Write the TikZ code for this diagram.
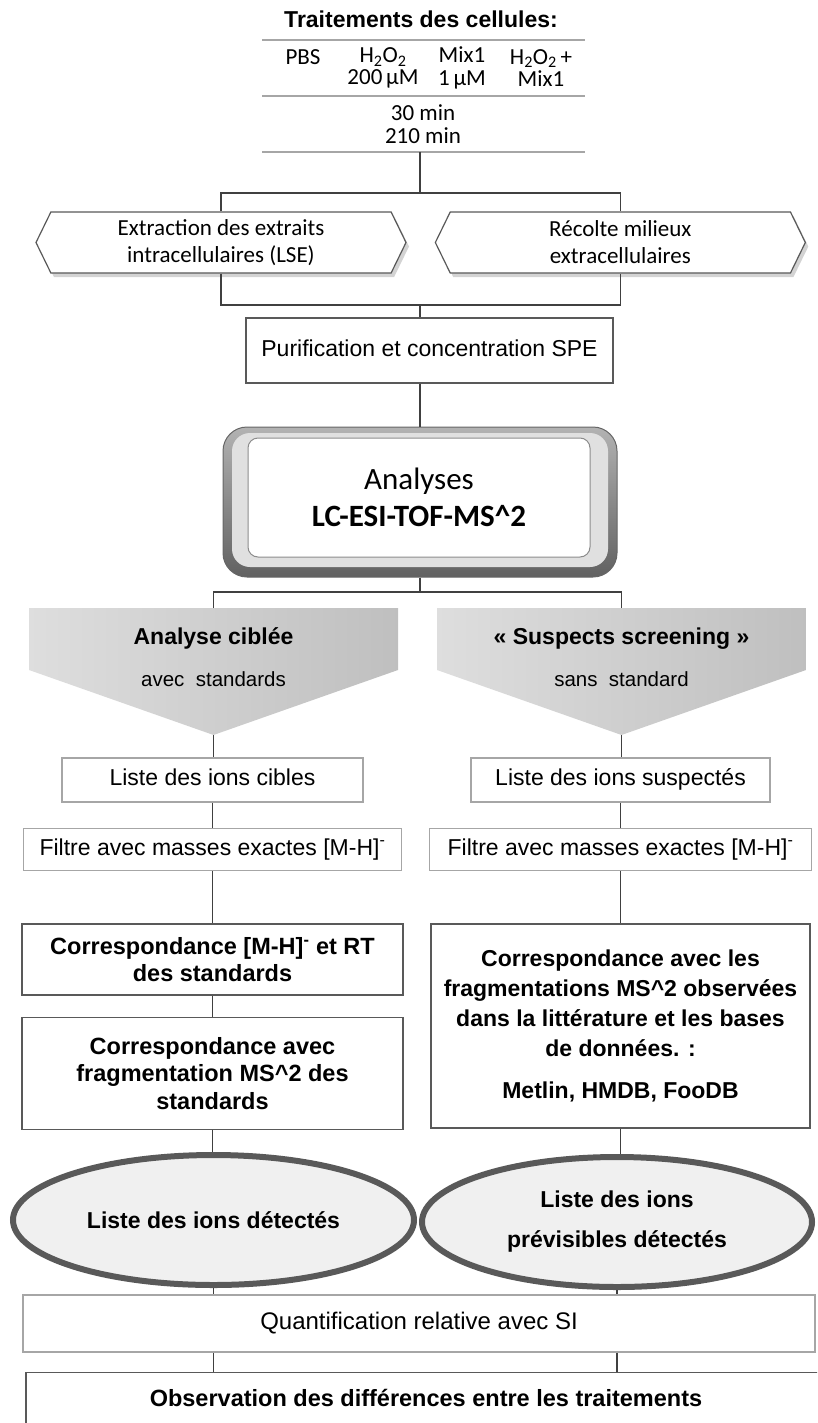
\documentclass[tikz,border=0pt]{standalone}
\usepackage{fontspec}
\setmainfont{Liberation Sans}
\newfontfamily\calibfont{Carlito}
\usetikzlibrary{positioning, shapes.geometric, shapes.symbols, shadows}

\begin{document}
\begin{tikzpicture}[x=1pt, y=-1pt,
  box/.style={draw=black!65, line width=1.3pt, fill=white, align=center, inner sep=2pt,
              font=\fontsize{23}{28}\selectfont},
  oneline/.style={text height=16pt, text depth=5pt},
  boldbox/.style={box, font=\bfseries\fontsize{23.5}{27.5}\selectfont},
  lightbox/.style={box, oneline, draw=black!35, line width=1.5pt},
  hexa/.style={signal, signal to=west and east, signal pointer angle=128, draw=black!65,
               line width=1.2pt, fill=white, minimum width=370pt, minimum height=61pt,
               drop shadow={shadow xshift=3pt, shadow yshift=-4pt, opacity=0.35},
               align=center, font=\calibfont\fontsize{23}{27}\selectfont},
  chevronfill/.style={left color=black!13, right color=black!25},
  chevtext/.style={inner sep=0pt, oneline},
  oval/.style={ellipse, draw=black!65, line width=6pt, fill=black!6, minimum height=130pt,
               align=center, font=\bfseries\fontsize{23}{40}\selectfont},
  cell/.style={font=\calibfont\fontsize{23}{22.5}\selectfont, align=center, inner sep=0pt},
  link/.style={draw=black!75, line width=1.3pt},
  rule/.style={draw=black!35, line width=2pt},
]
  \clip (0,0) rectangle (817,1423);

  \node[font=\bfseries\fontsize{23}{27}\selectfont] (title) at (421,19) {Traitements des cellules:};
  \draw[rule] (262,40) -- (585,40);
  \draw[rule] (262,96) -- (585,96);
  \draw[rule] (262,152) -- (585,152);
  \coordinate (tabbot) at (420,152);

  \node[cell] (pbs)    at (303,57) {PBS};
  \node[cell] (hperox) at (383,68) {H\textsubscript{2}O\textsubscript{2}\\200\,µM};
  \node[cell] (mixone) at (462,68) {Mix1\\1\,µM};
  \node[cell] (combo)  at (541,68) {H\textsubscript{2}O\textsubscript{2}\,+\\Mix1};
  \node[cell, font=\calibfont\fontsize{23}{23}\selectfont] (times) at (423,124) {30 min\\210 min};

  \node[hexa] (extract) at (221,242.5) {Extraction des extraits\\intracellulaires (LSE)};
  \node[hexa, right=28pt of extract] (harvest) {Récolte milieux\\extracellulaires};
  \coordinate (split) at (420,193);
  \draw[link] (tabbot) -- (split);
  \draw[link] (extract.north) |- (split) -| (harvest.north);

  \node[box, oneline, minimum width=367pt, minimum height=65pt] (spe) at (429.5,350.5) {Purification et concentration SPE};
  \coordinate (merge) at (420,305);
  \draw[link] (extract.south) |- (merge) -| (harvest.south);
  \draw[link] (merge) -- (merge |- spe.north);

  \node[draw=black!60, line width=1pt, rounded corners=24pt, top color=black!30, bottom color=black!62,
        minimum width=394pt, minimum height=150pt] (rim) at (420,502) {};
  \node[rounded corners=18pt, fill=black!12, minimum width=376pt, minimum height=134pt] (bevel) at (420,500) {};
  \node[draw=black!45, line width=1pt, rounded corners=10pt, fill=white, minimum width=342pt,
        minimum height=119pt, align=center, font=\calibfont\fontsize{31}{37}\selectfont]
        (analyses) at (419,497.5) {Analyses\\\textbf{LC-ESI-TOF-MS\textasciicircum 2}};
  \draw[link] (rim.north |- spe.south) -- (rim.north);

  \path[chevronfill] (29,608) -- (398,608) -- (398,670) -- (213.5,735) -- (29,670) -- cycle;
  \path[chevronfill] (437,608) -- (806,608) -- (806,670) -- (621.5,735) -- (437,670) -- cycle;
  \coordinate (targetedtop) at (213.5,608);
  \coordinate (targetedtip) at (213.5,735);
  \coordinate (suspectstop) at (621.5,608);
  \coordinate (suspectstip) at (621.5,735);
  \node[chevtext, font=\bfseries\fontsize{23}{27}\selectfont] (targetedtitle) at (213.5,639) {Analyse ciblée};
  \node[chevtext, font=\fontsize{20.5}{24}\selectfont] (targetedsub) at (213.5,681) {avec\ \ standards};
  \node[chevtext, font=\bfseries\fontsize{23}{27}\selectfont] (suspectstitle) at (621.5,639) {« Suspects screening »};
  \node[chevtext, font=\fontsize{20.5}{24}\selectfont] (suspectssub) at (621.5,681) {sans\ \ standard};
  \coordinate (fork) at (420,592);
  \draw[link] (rim.south) -- (fork);
  \draw[link] (targetedtop) |- (fork) -| (suspectstop);

  \node[lightbox, minimum width=301pt, minimum height=44pt] (targetlist) at (212.5,780) {Liste des ions cibles};
  \node[lightbox, minimum width=378pt, minimum height=42pt, below=25pt of targetlist]
        (targetfilter) {Filtre avec masses exactes [M-H]\textsuperscript{-}};
  \node[boldbox, minimum width=381pt, minimum height=71pt, below=52pt of targetfilter]
        (rtmatch) {Correspondance [M-H]\textsuperscript{-} et RT\\des standards};
  \node[boldbox, minimum width=381pt, minimum height=112pt, below=21pt of rtmatch]
        (msmatch) {Correspondance avec\\fragmentation MS\textasciicircum 2 des\\standards};

  \node[lightbox, minimum width=299pt, minimum height=44pt] (suspectlist) at (620.5,780) {Liste des ions suspectés};
  \node[lightbox, minimum width=382pt, minimum height=42pt, below=25pt of suspectlist]
        (suspectfilter) {Filtre avec masses exactes [M-H]\textsuperscript{-}};
  \node[boldbox, font=\bfseries\fontsize{23}{30}\selectfont, minimum width=379pt, minimum height=204pt,
        below=52pt of suspectfilter] (litmatch)
        {Correspondance avec les\\fragmentations MS\textasciicircum 2 observées\\dans la littérature et les bases\\de données. :\\[12pt]Metlin, HMDB, FooDB};

  \draw[link] (targetedtip) -- (targetedtip |- targetlist.north);
  \draw[link] (suspectstip) -- (suspectstip |- suspectlist.north);
  \draw[link] (targetlist) -- (targetfilter);
  \draw[link] (suspectlist) -- (suspectfilter);
  \draw[link] (targetfilter) -- (rtmatch);
  \draw[link] (suspectfilter) -- (litmatch);
  \draw[link] (rtmatch) -- (msmatch);

  \node[oval, minimum width=401pt] (found) at (213.5,1220) {Liste des ions détectés};
  \node[oval, minimum width=390pt] (foreseen) at (617,1222) {Liste des ions\\prévisibles détectés};
  \draw[link] (msmatch.south) -- (msmatch.south |- found.north);
  \draw[link] (litmatch.south) -- (litmatch.south |- foreseen.north);

  \node[lightbox, font=\fontsize{24}{28}\selectfont, minimum width=792pt, minimum height=57pt]
        (quant) at (419,1323.5) {Quantification relative avec SI};
  \node[boldbox, oneline, anchor=north, minimum width=800pt, minimum height=56pt] (compare) at (426,1372)
        {Observation des différences entre les traitements};
  \draw[link] (found.south) -- (found.south |- quant.north);
  \draw[link] (foreseen.south) -- (foreseen.south |- quant.north);
  \draw[link] (found.south |- quant.south) -- (found.south |- compare.north);
  \draw[link] (foreseen.south |- quant.south) -- (foreseen.south |- compare.north);
\end{tikzpicture}
\end{document}
